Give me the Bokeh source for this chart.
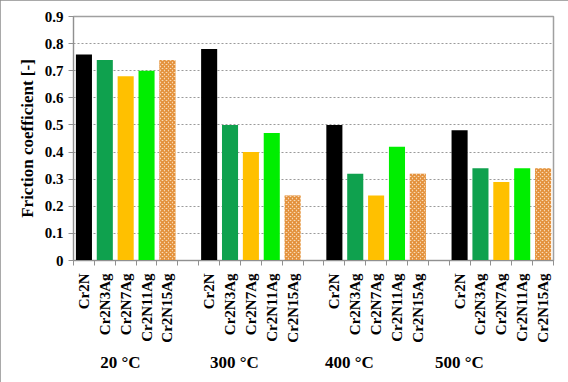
import math
from bokeh.plotting import figure
from bokeh.models import ColumnDataSource, FixedTicker, LinearAxis, Range1d
from bokeh.embed import file_html
from bokeh.resources import INLINE

groups = ["20 °C", "300 °C", "400 °C", "500 °C"]
samples = ["Cr2N", "Cr2N3Ag", "Cr2N7Ag", "Cr2N11Ag", "Cr2N15Ag"]
values = {
    "20 °C":  [0.76, 0.74, 0.68, 0.70, 0.74],
    "300 °C": [0.78, 0.50, 0.40, 0.47, 0.24],
    "400 °C": [0.50, 0.32, 0.24, 0.42, 0.32],
    "500 °C": [0.48, 0.34, 0.29, 0.34, 0.34],
}
colors = ["#000000", "#0fa14e", "#ffc000", "#00ee00", "#f9dcb8"]
y_ticks = [0, 0.1, 0.2, 0.3, 0.4, 0.5, 0.6, 0.7, 0.8, 0.9]

FONT = "Liberation Serif"

# categorical slots: 5 bars per group + one blank slot between groups
xs, tops, fills, hatch, names = [], [], [], [], []
for gi, g in enumerate(groups):
    for si, s in enumerate(samples):
        xs.append(gi * 6 + si)
        tops.append(values[g][si])
        fills.append(colors[si])
        hatch.append("diagonal_cross" if si == 4 else " ")
        names.append(s)
n_slots = len(groups) * 6 - 1

p = figure(width=568, height=382, output_backend="svg", toolbar_location=None,
           x_range=Range1d(-0.5, n_slots - 0.5), y_range=Range1d(0, 0.9),
           min_border_left=73, min_border_right=15, min_border_top=16,
           min_border_bottom=122, x_axis_location=None)
p.background_fill_color = "white"
p.border_fill_color = "white"
p.outline_line_color = "#a0a0a0"
p.outline_line_width = 1.5
p.styles = {"outline": "2px solid #8c8c8c", "outline-offset": "-2px"}

src = ColumnDataSource(dict(x=xs, top=tops, fill=fills, hatch=hatch))
p.vbar(x="x", top="top", width=0.77, bottom=0, source=src, fill_color="fill",
       line_color=None, hatch_pattern="hatch", hatch_color="#e3903a",
       hatch_scale=4, hatch_weight=1.6)

# y axis
yax = p.yaxis[0]
yax.ticker = FixedTicker(ticks=y_ticks)
yax.major_label_overrides = {0: "0"}
yax.axis_line_color = "#909090"
yax.major_tick_line_color = "#909090"
yax.major_tick_out = 5
yax.major_tick_in = 0
yax.minor_tick_line_color = None
yax.major_label_text_font = FONT
yax.major_label_text_font_style = "bold"
yax.major_label_text_font_size = "15px"
yax.major_label_text_color = "black"
yax.major_label_standoff = 5
yax.axis_label = "Friction coefficient [-]"
yax.axis_label_text_font = FONT
yax.axis_label_text_font_style = "bold"
yax.axis_label_text_font_size = "17px"
yax.axis_label_text_color = "black"
yax.axis_label_standoff = 5

p.xgrid.grid_line_color = None
p.ygrid.ticker = FixedTicker(ticks=y_ticks[1:-1])
p.ygrid.grid_line_color = "#9a9a9a"
p.ygrid.grid_line_dash = "2 2"
p.ygrid.grid_line_width = 1

# x axis with sample names
xax = LinearAxis(ticker=FixedTicker(ticks=xs, minor_ticks=[i - 0.5 for i in range(n_slots + 1)]))
xax.major_label_overrides = {x: n for x, n in zip(xs, names)}
xax.major_label_orientation = math.pi / 2
xax.axis_line_color = "#909090"
xax.major_tick_line_color = None
xax.major_tick_out = 0
xax.major_tick_in = 0
xax.minor_tick_line_color = "#909090"
xax.minor_tick_out = 5
xax.minor_tick_in = 0
xax.major_label_standoff = 8
xax.major_label_text_font = FONT
xax.major_label_text_font_style = "bold"
xax.major_label_text_font_size = "15px"
xax.major_label_text_color = "black"
p.add_layout(xax, "below")

# group labels
group_pos = [1.75, 7.21, 12.72, 17.99]
gax = LinearAxis(ticker=FixedTicker(ticks=group_pos, minor_ticks=[]))
gax.major_label_overrides = {x: g for x, g in zip(group_pos, groups)}
gax.axis_line_color = None
gax.major_tick_line_color = None
gax.minor_tick_line_color = None
gax.major_tick_out = 0
gax.major_tick_in = 0
gax.major_label_standoff = 7
gax.major_label_text_font = FONT
gax.major_label_text_font_style = "bold"
gax.major_label_text_font_size = "17px"
gax.major_label_text_color = "black"
p.add_layout(gax, "below")

open("out.html", "w").write(file_html(p, INLINE))
